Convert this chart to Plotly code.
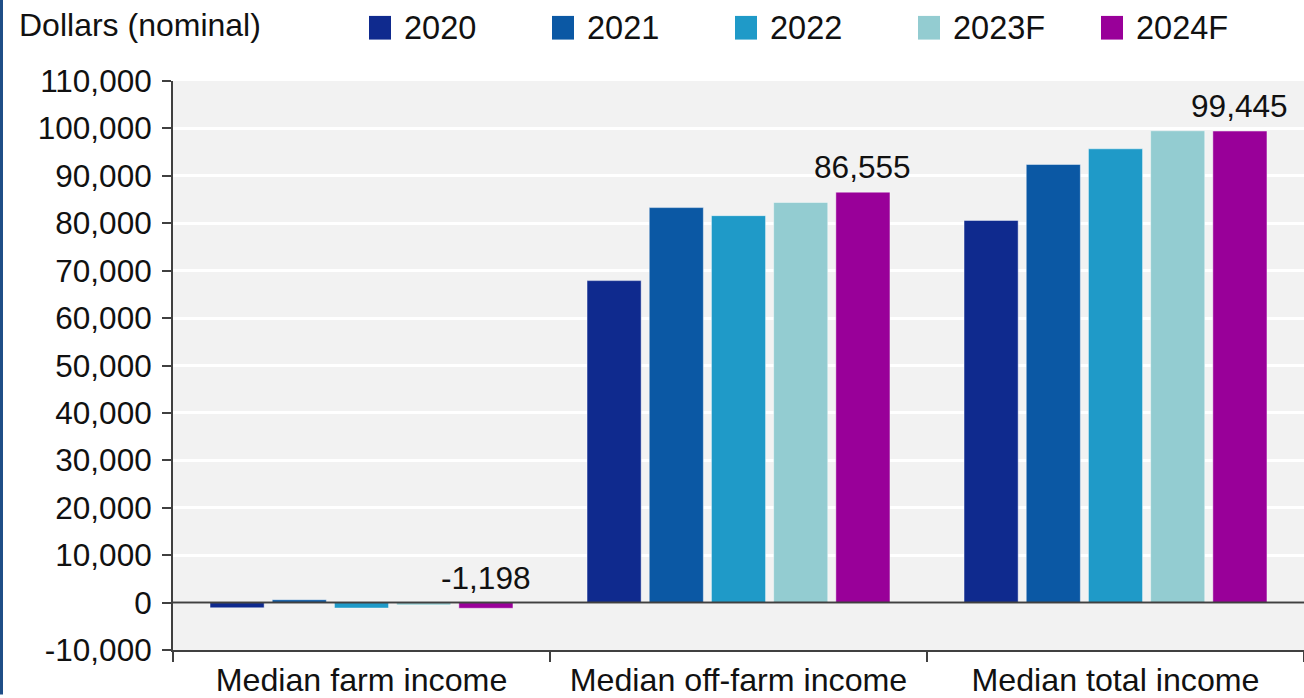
import plotly.graph_objects as go

categories = ["Median farm income", "Median off-farm income", "Median total income"]
series_names = ["2020", "2021", "2022", "2023F", "2024F"]
values_2020 = [-1100, 67900, 80600]
values_2021 = [600, 83300, 92400]
values_2022 = [-1150, 81600, 95700]
values_2023F = [-500, 84400, 99500]
values_2024F = [-1198, 86555, 99445]
series_values = [values_2020, values_2021, values_2022, values_2023F, values_2024F]
colors = ["#0F2A8E", "#0B58A4", "#1F9AC8", "#93CCD1", "#990099"]
label_values = values_2024F
y_tick_vals = list(range(-10000, 110001, 10000))
y_tick_text = [f"{v:,}" for v in y_tick_vals]
y_axis_title = "Dollars (nominal)"

W, H = 1304, 698
ML, MR, MT, MB = 173, 0, 81, 40
PW, PH = W - ML - MR, H - MT - MB
FONT = "Liberation Sans, Arial, sans-serif"
AX = "#404040"
TXT = "#111111"

def px_x(px):
    return (px - ML) / PW

def px_y(py):
    return (H - MB - py) / PH

BARGAP = 0.175
BARGROUPGAP = 0.13

fig = go.Figure()
for name, vals, col in zip(series_names, series_values, colors):
    fig.add_trace(go.Bar(
        x=categories, y=vals, name=name,
        marker=dict(color=col, line=dict(color="rgba(255,255,255,0.45)", width=1)),
        showlegend=False,
    ))

annotations = []
shapes = []

# data labels above last series
n = len(series_names)
slot = (1 - BARGAP) / n
offset = (n - 1 - (n - 1) / 2) * slot
for i, v in enumerate(label_values):
    annotations.append(dict(
        x=i + offset, y=max(v, 0), xref="x", yref="y",
        text=f"{v:,}", showarrow=False, yanchor="bottom", yshift=5,
        font=dict(size=31.6, color=TXT, family=FONT),
    ))

# manual legend
leg_x0 = 369
leg_step = 183
for k, (name, col) in enumerate(zip(series_names, colors)):
    sx = leg_x0 + k * leg_step
    shapes.append(dict(type="rect", xref="paper", yref="paper",
                       x0=px_x(sx), x1=px_x(sx + 22), y0=px_y(39), y1=px_y(15),
                       fillcolor=col, line=dict(width=0), layer="above"))
    annotations.append(dict(x=px_x(sx + 33), y=px_y(27), xref="paper", yref="paper",
                            text=name, showarrow=False, xanchor="left", yanchor="middle",
                            font=dict(size=32.5, color=TXT, family=FONT)))

# axis title
annotations.append(dict(x=px_x(17), y=px_y(24), xref="paper", yref="paper",
                        text=y_axis_title, showarrow=False, xanchor="left", yanchor="middle",
                        font=dict(size=32, color=TXT, family=FONT)))

# zero line above bars
shapes.append(dict(type="line", xref="paper", yref="y", x0=0, x1=1, y0=0, y1=0,
                   line=dict(color=AX, width=2), layer="above"))
# left frame line
shapes.append(dict(type="line", xref="paper", yref="paper",
                   x0=px_x(1.5), x1=px_x(1.5), y0=px_y(H + 5), y1=px_y(-5),
                   line=dict(color="#1F4E87", width=3), layer="above"))

fig.update_layout(
    width=W, height=H,
    margin=dict(l=ML, r=MR, t=MT, b=MB, pad=0),
    paper_bgcolor="white", plot_bgcolor="#F2F2F2",
    barmode="group", bargap=BARGAP, bargroupgap=BARGROUPGAP,
    font=dict(family=FONT, size=32, color=TXT),
    annotations=annotations, shapes=shapes,
    showlegend=False,
)
fig.update_yaxes(
    range=[-10000, 110000], tickvals=y_tick_vals, ticktext=y_tick_text,
    showgrid=True, gridcolor="white", gridwidth=3,
    zeroline=False,
    showline=True, linecolor=AX, linewidth=2,
    ticks="outside", ticklen=9, tickwidth=2, tickcolor=AX,
    ticklabelstandoff=4,
    tickfont=dict(size=31.5, family=FONT, color=TXT),
)
fig.update_xaxes(
    showgrid=False, showline=True, linecolor=AX, linewidth=2,
    ticks="outside", tickson="boundaries", ticklen=10, tickwidth=2, tickcolor=AX,
    tickfont=dict(size=32.2, family=FONT, color=TXT),
)

fig.write_html("out.html")
